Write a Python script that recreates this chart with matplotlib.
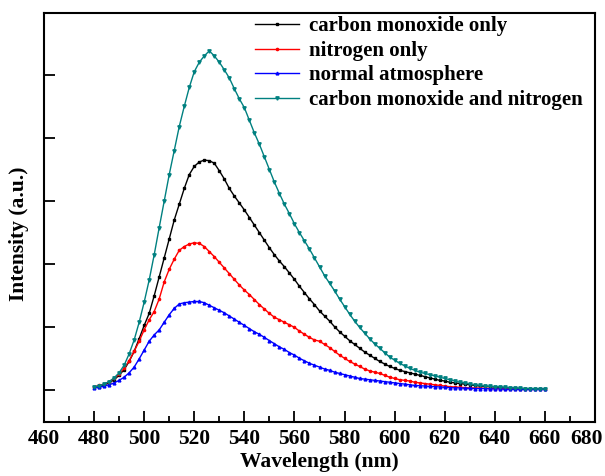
import matplotlib
matplotlib.use('Agg')
import matplotlib.pyplot as plt
import matplotlib.transforms as mtransforms
import numpy as np

plt.rcParams['font.family'] = 'Liberation Serif'
plt.rcParams['font.weight'] = 'bold'

wavelength = list(range(480, 661, 2))

co_n2 = [0.05, 0.07, 0.10, 0.14, 0.20, 0.28, 0.40, 0.58, 0.80, 1.08,
         1.40, 1.75, 2.15, 2.58, 3.00, 3.42, 3.80, 4.18, 4.50, 4.80,
         5.05, 5.20, 5.30, 5.38, 5.30, 5.20, 5.08, 4.95, 4.78, 4.62,
         4.48, 4.28, 4.08, 3.90, 3.70, 3.50, 3.30, 3.12, 2.95, 2.80,
         2.64, 2.50, 2.37, 2.24, 2.10, 1.96, 1.82, 1.70, 1.58, 1.45,
         1.33, 1.21, 1.10, 1.00, 0.91, 0.82, 0.74, 0.67, 0.60, 0.53,
         0.48, 0.43, 0.39, 0.35, 0.32, 0.29, 0.27, 0.25, 0.23, 0.21,
         0.19, 0.17, 0.15, 0.13, 0.12, 0.10, 0.09, 0.08, 0.07, 0.065,
         0.06, 0.055, 0.05, 0.045, 0.04, 0.035, 0.03, 0.03, 0.025, 0.02,
         0.02]

co_only = [0.05, 0.06, 0.09, 0.12, 0.17, 0.24, 0.33, 0.46, 0.62, 0.82,
           1.03, 1.22, 1.50, 1.80, 2.10, 2.40, 2.70, 2.95, 3.20, 3.42,
           3.55, 3.62, 3.65, 3.64, 3.60, 3.48, 3.35, 3.20, 3.08, 2.97,
           2.86, 2.74, 2.62, 2.50, 2.38, 2.26, 2.15, 2.05, 1.96, 1.86,
           1.76, 1.65, 1.55, 1.45, 1.36, 1.26, 1.18, 1.10, 1.01, 0.93,
           0.86, 0.79, 0.73, 0.67, 0.61, 0.56, 0.51, 0.46, 0.42, 0.38,
           0.35, 0.32, 0.30, 0.28, 0.26, 0.24, 0.22, 0.20, 0.18, 0.16,
           0.15, 0.13, 0.12, 0.11, 0.10, 0.09, 0.08, 0.07, 0.065, 0.06,
           0.055, 0.05, 0.045, 0.04, 0.035, 0.03, 0.03, 0.025, 0.025, 0.02,
           0.02]

n2_only = [0.06, 0.08, 0.10, 0.14, 0.19, 0.26, 0.35, 0.47, 0.62, 0.78,
           0.96, 1.12, 1.25, 1.45, 1.72, 1.92, 2.08, 2.22, 2.28, 2.32,
           2.34, 2.33, 2.28, 2.20, 2.12, 2.03, 1.94, 1.85, 1.76, 1.67,
           1.59, 1.52, 1.44, 1.36, 1.29, 1.22, 1.16, 1.12, 1.08, 1.04,
           1.00, 0.94, 0.89, 0.84, 0.80, 0.78, 0.73, 0.68, 0.62, 0.56,
           0.51, 0.46, 0.42, 0.38, 0.34, 0.31, 0.29, 0.27, 0.24, 0.21,
           0.19, 0.17, 0.16, 0.15, 0.13, 0.12, 0.11, 0.10, 0.09, 0.08,
           0.07, 0.06, 0.055, 0.05, 0.045, 0.04, 0.04, 0.035, 0.035, 0.03,
           0.03, 0.03, 0.025, 0.025, 0.025, 0.02, 0.02, 0.02, 0.02, 0.02,
           0.02]

normal = [0.04, 0.05, 0.07, 0.09, 0.12, 0.16, 0.21, 0.28, 0.37, 0.50,
          0.64, 0.78, 0.88, 0.96, 1.08, 1.20, 1.30, 1.37, 1.39, 1.40,
          1.41, 1.41, 1.39, 1.35, 1.31, 1.27, 1.23, 1.18, 1.13, 1.08,
          1.03, 0.98, 0.93, 0.89, 0.84, 0.79, 0.74, 0.69, 0.65, 0.60,
          0.56, 0.51, 0.47, 0.43, 0.40, 0.37, 0.34, 0.32, 0.29, 0.27,
          0.25, 0.23, 0.21, 0.19, 0.18, 0.17, 0.16, 0.15, 0.14, 0.13,
          0.12, 0.11, 0.10, 0.09, 0.08, 0.075, 0.07, 0.065, 0.06, 0.055,
          0.05, 0.045, 0.04, 0.04, 0.035, 0.035, 0.03, 0.03, 0.03, 0.025,
          0.025, 0.025, 0.02, 0.02, 0.02, 0.02, 0.02, 0.02, 0.02, 0.02,
          0.02]

fig = plt.figure(figsize=(6.05, 4.76), dpi=100)
ax = fig.add_axes([0.0727, 0.1134, 0.9108, 0.8593])

ax.plot(wavelength, co_only, color='black', marker='s', ms=1.6, lw=1.0, label='carbon monoxide only')
ax.plot(wavelength, n2_only, color='red', marker='o', ms=1.6, lw=1.0, label='nitrogen only')
ax.plot(wavelength, normal, color='blue', marker='^', ms=2.0, lw=1.0, label='normal atmosphere')
ax.plot(wavelength, co_n2, color='#008080', marker='v', ms=2.4, lw=1.0, label='carbon monoxide and nitrogen')

ax.set_xlim(460, 680)
ax.set_ylim(-0.5, 5.98)
ax.set_xticks(range(460, 681, 20))
ax.set_xticks(range(470, 680, 20), minor=True)
ax.set_yticks(range(0, 6))
ax.set_yticklabels([])
ax.tick_params(axis='both', which='major', direction='in', length=8, width=1.3, labelsize=15.5, pad=5)
ax.tick_params(axis='x', which='minor', direction='in', length=4.5, width=1.3)
for s in ax.spines.values():
    s.set_linewidth(1.5)
xlabs = ax.get_xticklabels()
for lab in xlabs:
    lab.set_fontweight('bold')
# last label sits a little to the left so it stays inside the picture
xlabs[-1].set_transform(xlabs[-1].get_transform() +
                        mtransforms.ScaledTranslation(-9 / 100, 0, fig.dpi_scale_trans))

ax.set_xlabel('Wavelength (nm)', fontsize=15.5, fontweight='bold', labelpad=2)
ax.set_ylabel('Intensity (a.u.)', fontsize=15.5, fontweight='bold')
ax.yaxis.set_label_coords(-0.028, 0.46)

leg = ax.legend(loc='upper left', bbox_to_anchor=(0.383, 0.992), frameon=False,
                borderpad=0, borderaxespad=0, handlelength=2.1, handletextpad=0.5,
                labelspacing=0.22, prop={'size': 15, 'weight': 'bold'})

fig.savefig('out.png', dpi=100)
